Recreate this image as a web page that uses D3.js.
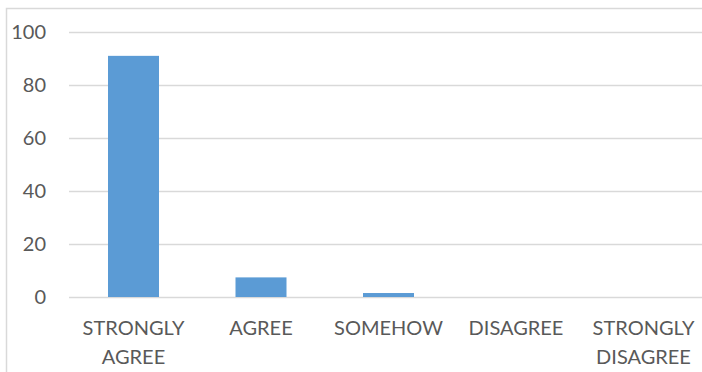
<!DOCTYPE html>
<html><head><meta charset="utf-8">
<script src="https://cdn.jsdelivr.net/npm/d3@7"></script>
<style>body{margin:0;background:#fff;} svg{display:block;}</style>
</head><body>
<svg id="c" width="702" height="372"></svg>
<script>
const categories = [["STRONGLY","AGREE"],["AGREE"],["SOMEHOW"],["DISAGREE"],["STRONGLY","DISAGREE"]];
const values = [91, 7.4, 1.5, 0, 0];
const yTicks = [0, 20, 40, 60, 80, 100];

const svg = d3.select("#c");
const font = "Lato, 'Noto Sans', sans-serif";
svg.append("rect").attr("x",6.5).attr("y",8.5).attr("width",720).attr("height",400)
  .attr("fill","#fff").attr("stroke","#d9d9d9").attr("stroke-width",1.5);

const x = d3.scaleBand().domain(d3.range(categories.length)).range([69.75, 707.25])
  .paddingInner(0.6).paddingOuter(0.3);
const y = d3.scaleLinear().domain([0,100]).range([297, 32]);

const yAxis = svg.append("g").attr("transform","translate(69,0)")
  .call(d3.axisLeft(y).tickValues(yTicks).tickSize(-650).tickPadding(23).tickFormat(d3.format("d")));
yAxis.select(".domain").remove();
yAxis.selectAll(".tick line").attr("stroke","#d9d9d9").attr("stroke-width",1.3);
yAxis.selectAll(".tick text").attr("fill","#595959").style("font-family",font).style("font-size","20px");

svg.append("g").selectAll("rect").data(values).join("rect")
  .attr("x",(d,i)=>x(i)).attr("width",x.bandwidth())
  .attr("y",d=>y(d)).attr("height",d=>y(0)-y(d)).attr("fill","#5B9BD5");

const lab = svg.append("g").selectAll("text").data(categories).join("text")
  .attr("x",(d,i)=>x(i)+x.bandwidth()/2).attr("y",335)
  .attr("text-anchor","middle").attr("fill","#595959")
  .style("font-family",font).style("font-size","20px");
lab.selectAll("tspan").data(d=>d).join("tspan")
  .attr("x",function(){return this.parentNode.getAttribute("x");})
  .attr("dy",(d,i)=>i===0?0:29).text(d=>d);
</script>
</body></html>
